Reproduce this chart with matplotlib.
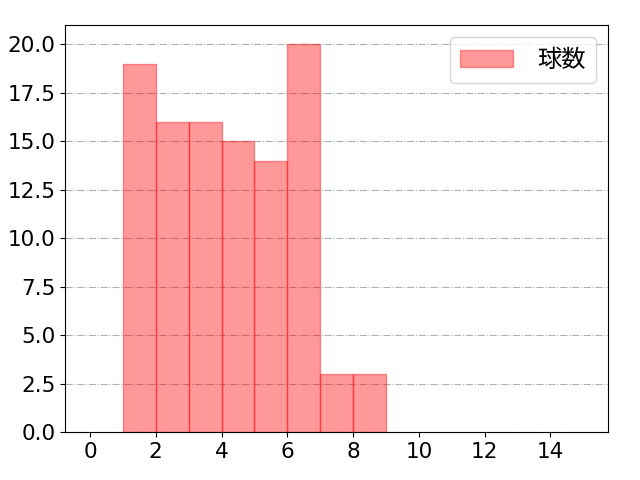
import matplotlib
matplotlib.use("Agg")
import matplotlib.pyplot as plt
import numpy as np

plt.rcParams['font.family'] = ['DejaVu Sans', 'Noto Sans CJK JP']

# 球数 per bin
bin_edges = [1, 2, 3, 4, 5, 6, 7, 8, 9]
counts = [19, 16, 16, 15, 14, 20, 3, 3]

fig, ax = plt.subplots(figsize=(6.4, 4.8), dpi=100)
ax.hist(bin_edges[:-1], bins=bin_edges, weights=counts,
        color='red', alpha=0.4, edgecolor='red', linewidth=1, label='球数')

ax.set_xlim(-0.75, 15.75)
ax.set_ylim(0, 21)
ax.set_xticks(np.arange(0, 15, 2))
ax.set_yticks(np.arange(0, 20.1, 2.5))
ax.yaxis.grid(True, linestyle='-.', color='#b0b0b0', linewidth=0.8)
ax.set_axisbelow(True)
ax.tick_params(labelsize=15.5)
ax.legend(prop={'family': ['Noto Sans CJK JP'], 'size': 17.5},
          handlelength=2.2, handletextpad=1.0, loc='upper right')

fig.subplots_adjust(left=0.102, right=0.95, top=0.948, bottom=0.1)
fig.savefig('out.png')
